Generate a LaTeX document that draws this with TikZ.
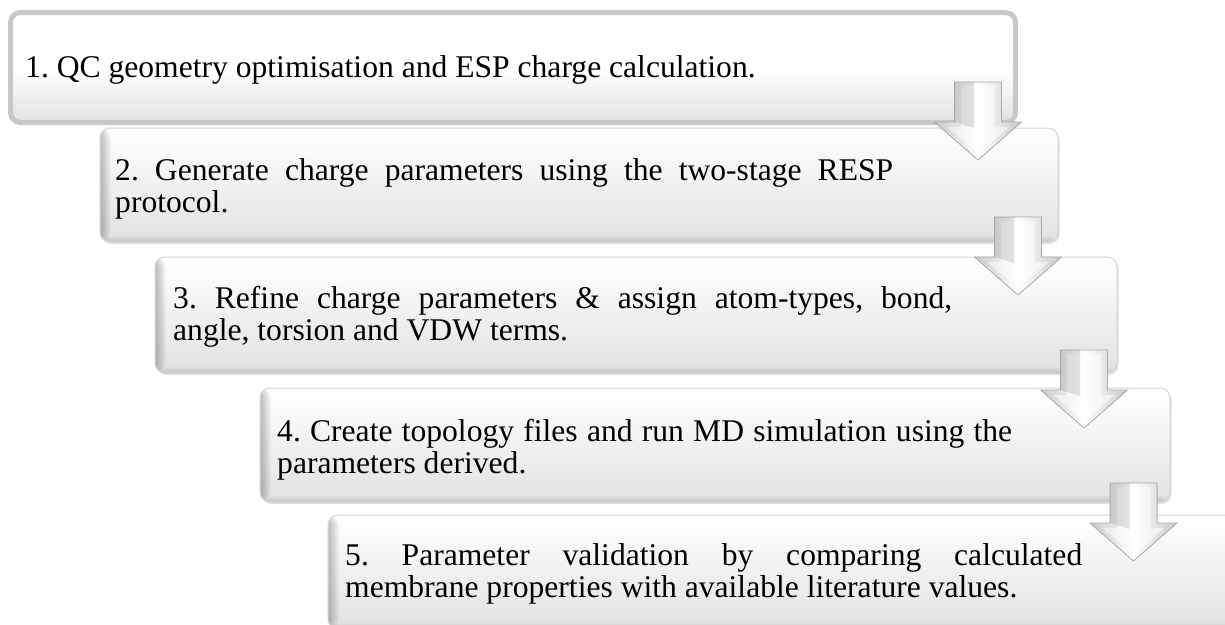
\documentclass[tikz,border=0pt]{standalone}
\usepackage{fontspec}
\setmainfont{Liberation Serif}
\usetikzlibrary{shadows}
\definecolor{borderone}{RGB}{200,200,200}
\definecolor{boxbottom}{RGB}{226,226,226}
\definecolor{boxedge}{RGB}{212,212,212}
\definecolor{arrowedge}{RGB}{170,170,170}
\definecolor{arrowside}{RGB}{200,200,200}
\hbadness=10000
\frenchspacing
\begin{document}
\begin{tikzpicture}[x=1pt,y=-1pt,
  firstbox/.style={rectangle, rounded corners=10pt, line width=5pt, draw=borderone,
    top color=white, bottom color=boxbottom, middle color=white, inner sep=0pt},
  stepbox/.style={rectangle, rounded corners=10pt, line width=1pt, draw=boxedge,
    top color=white, bottom color=boxbottom, inner sep=0pt,
    general shadow={shadow xshift=1.5pt, shadow yshift=-2pt, fill=black, opacity=0.12},
    path picture={
      \foreach \i in {0,...,9}{
        \fill[black, opacity=0.022]
          (path picture bounding box.north west) rectangle ([xshift={(11-\i)*1pt}]path picture bounding box.south west);
      }
      \foreach \i in {0,...,4}{
        \fill[black, opacity=0.02]
          ([yshift={(6-\i)*1pt}]path picture bounding box.south west) rectangle (path picture bounding box.south east);
      }
    }},
  steptext/.style={font=\fontsize{31.6}{32}\selectfont, inner sep=0pt, anchor=base west,
    align=justify, text=black},
  pics/downarrow/.style={code={
    \fill[left color=arrowside, right color=arrowside, middle color=white, draw=arrowedge, line width=0.7pt]
      (-23.5,0) -- (23.5,0) -- (23.5,40) -- (43.5,40) -- (0,78) -- (-43.5,40) -- (-23.5,40) -- cycle;
    \fill[white, opacity=0.5]
      (-17,4) -- (17,4) -- (17,45) -- (31,45) -- (0,71) -- (-31,45) -- (-17,45) -- cycle;
    \fill[black, opacity=0.1] (-23.5,0) -- (-4,0) -- (-4,46) -- (-23.5,40) -- cycle;
  }}
]
\useasboundingbox (0,0) rectangle (1225,624);
\clip (0,0) rectangle (1225,624);

% boxes
\node[firstbox, minimum width=1005pt, minimum height=110pt] (b1) at (513,67.5) {};
\node[stepbox, minimum width=958pt, minimum height=114pt] (b2) at (579,185) {};
\node[stepbox, minimum width=962pt, minimum height=116pt] (b3) at (636,315) {};
\node[stepbox, minimum width=910pt, minimum height=114pt] (b4) at (715,445) {};
\node[stepbox, minimum width=912pt, minimum height=114pt] (b5) at (784,572) {};

% texts
\node[steptext, align=left] (t1) at (25,77) {1. QC geometry optimisation and ESP charge calculation.};
\node[steptext, text width=778pt] (t2) at (115,180)
  {2. Generate charge parameters using the two-stage RESP\linebreak protocol.};
\node[steptext, text width=779pt] (t3) at (173,308)
  {3. Refine charge parameters \& assign atom-types, bond,\linebreak angle, torsion and VDW terms.};
\node[steptext, text width=735pt] (t4) at (277,441)
  {4. Create topology files and run MD simulation using the\linebreak parameters derived.};
\node[steptext, text width=737pt] (t5) at (345,565)
  {5. Parameter validation by comparing calculated\linebreak membrane properties with available literature values.};

% arrows between steps
\coordinate (a1) at (978,82);
\coordinate (a2) at (1018,217);
\coordinate (a3) at (1084,350);
\coordinate (a4) at (1133.5,483);
\pic at (a1) {downarrow};
\pic at (a2) {downarrow};
\pic at (a3) {downarrow};
\pic at (a4) {downarrow};
\end{tikzpicture}
\end{document}
